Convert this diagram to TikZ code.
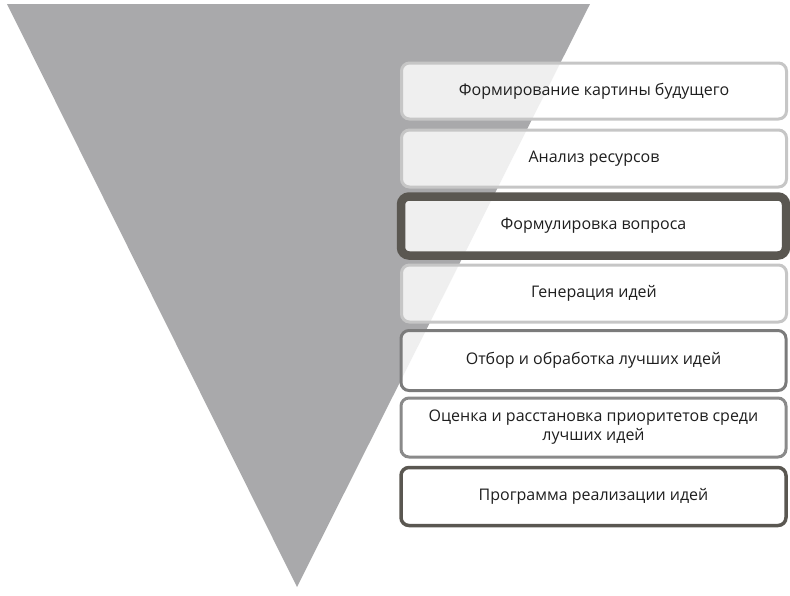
\documentclass[tikz,border=0pt]{standalone}
\usepackage{fontspec}
\setmainfont{Open Sans}
\usepackage{tikz}

\definecolor{funnelgray}{HTML}{A9A9AB}
\definecolor{edgelight}{HTML}{C6C6C6}
\definecolor{edgemid}{HTML}{7B7B7B}
\definecolor{edgesoft}{HTML}{8A8A8A}
\definecolor{edgedark}{HTML}{5A5751}
\definecolor{textdark}{HTML}{1E1E1E}

\begin{document}
\begin{tikzpicture}[x=1pt,y=-1pt,
    etap/.style={draw, rounded corners=8pt, fill=white, fill opacity=0.82, text opacity=1,
        text=textdark, minimum width=385pt, minimum height=56pt, align=center,
        font=\fontsize{16}{19}\selectfont, line width=3pt},
    etaplight/.style={etap, draw=edgelight},
    etapmid/.style={etap, draw=edgemid},
    etapsoft/.style={etap, draw=edgesoft},
    etapdark/.style={etap, draw=edgedark}]
    \useasboundingbox (0,0) rectangle (790,595);
    % funnel
    \fill[funnelgray] (7,4) -- (590,4) -- (297,587) -- cycle;
    % stages
    \node[etaplight] (vision) at (594,91) {Формирование картины будущего};
    \node[etaplight, minimum height=57pt] (resources) at (594,158.5) {Анализ ресурсов};
    \node[etapdark, line width=8.5pt, minimum height=59pt] (question) at (593.5,226) {Формулировка вопроса};
    \node[etaplight, minimum height=57pt] (generation) at (594,293.5) {Генерация идей};
    \node[etapmid, minimum height=60pt] (selection) at (593.5,360.5) {Отбор и обработка лучших идей};
    \node[etapsoft, minimum height=59pt] (priority) at (593.5,427.5) {Оценка и расстановка приоритетов среди\\лучших идей};
    \node[etapdark, line width=3.5pt, minimum height=58pt] (program) at (593.5,496.5) {Программа реализации идей};
\end{tikzpicture}
\end{document}
